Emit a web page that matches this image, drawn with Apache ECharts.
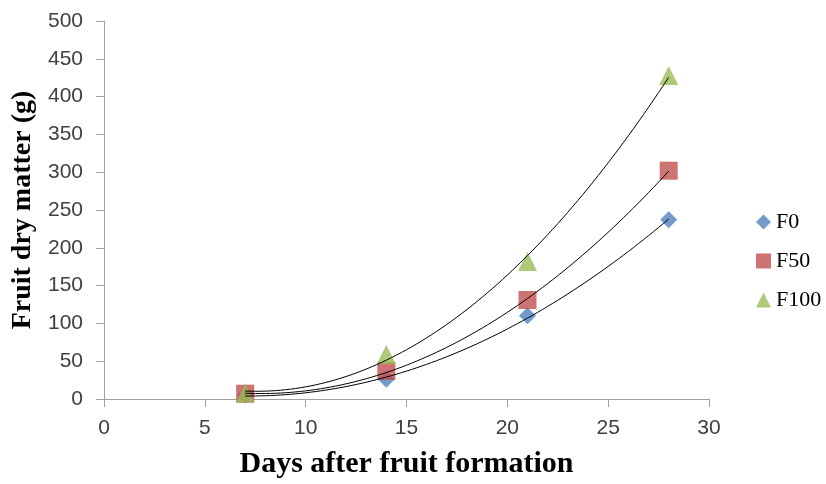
<!DOCTYPE html>
<html><head><meta charset="utf-8">
<script src="https://cdn.jsdelivr.net/npm/echarts@6/dist/echarts.min.js"></script>
<style>html,body{margin:0;padding:0;background:#fff}#c{width:826px;height:484px}</style>
</head><body><div id="c"></div>
<script>
const days = [7, 14, 21, 28];
const F0 = [5, 26, 110, 237];
const F50 = [7, 37, 131, 302];
const F100 = [8, 59, 182, 428];
const xTicks = [0, 5, 10, 15, 20, 25, 30];
const yTicks = [0, 50, 100, 150, 200, 250, 300, 350, 400, 450, 500];

// least squares quadratic (Excel polynomial trendline, order 2)
function quadFit(xs, ys) {
  let n = xs.length, S = [0,0,0,0,0], T = [0,0,0];
  for (let i = 0; i < n; i++) {
    let p = 1;
    for (let k = 0; k < 5; k++) { S[k] += p; if (k < 3) T[k] += p * ys[i]; p *= xs[i]; }
  }
  const A = [[S[0],S[1],S[2],T[0]],[S[1],S[2],S[3],T[1]],[S[2],S[3],S[4],T[2]]];
  for (let i = 0; i < 3; i++) {
    for (let j = i + 1; j < 3; j++) {
      const f = A[j][i] / A[i][i];
      for (let k = i; k < 4; k++) A[j][k] -= f * A[i][k];
    }
  }
  const c = [0,0,0];
  for (let i = 2; i >= 0; i--) {
    let s = A[i][3];
    for (let k = i + 1; k < 3; k++) s -= A[i][k] * c[k];
    c[i] = s / A[i][i];
  }
  return c;
}
function trend(ys) {
  const c = quadFit(days, ys), out = [];
  const x0 = days[0], x1 = days[days.length - 1];
  for (let i = 0; i <= 84; i++) {
    const x = x0 + (x1 - x0) * i / 84;
    out.push([x, c[0] + c[1] * x + c[2] * x * x]);
  }
  return out;
}
const pts = ys => days.map((d, i) => [d, ys[i]]);

const tickFont = {fontFamily: '"Liberation Sans",sans-serif', fontSize: 21, color: '#404040'};
const chart = echarts.init(document.getElementById('c'));
const trendStyle = {color: '#000', width: 1};
chart.setOption({
  animation: false,
  grid: {left: 104, right: 117, top: 21, bottom: 82},
  legend: {
    orient: 'vertical', left: 751, top: 206, itemGap: 17, itemWidth: 15, itemHeight: 15,
    textStyle: {fontFamily: '"Liberation Serif",serif', fontSize: 22, color: '#000'},
    data: [{name: 'F0', icon: 'diamond'}, {name: 'F50', icon: 'rect'}, {name: 'F100', icon: 'triangle'}]
  },
  xAxis: {
    type: 'value', min: 0, max: 30, interval: 5,
    name: 'Days after fruit formation', nameLocation: 'middle', nameGap: 50,
    nameTextStyle: {fontFamily: '"Liberation Serif",serif', fontWeight: 'bold', fontSize: 30, color: '#000'},
    axisLine: {lineStyle: {color: '#a0a0a0'}},
    axisTick: {show: true, length: 8, lineStyle: {color: '#a0a0a0'}},
    axisLabel: Object.assign({margin: 19}, tickFont),
    splitLine: {show: false}
  },
  yAxis: {
    type: 'value', min: 0, max: 500, interval: 50,
    name: 'Fruit dry matter (g)', nameLocation: 'middle', nameGap: 66,
    nameTextStyle: {fontFamily: '"Liberation Serif",serif', fontWeight: 'bold', fontSize: 28, color: '#000'},
    axisLine: {show: true, lineStyle: {color: '#a0a0a0'}},
    axisTick: {show: true, length: 8, lineStyle: {color: '#a0a0a0'}},
    axisLabel: Object.assign({margin: 21}, tickFont),
    splitLine: {show: false}
  },
  series: [
    {name: 'F0', type: 'scatter', symbol: 'diamond', symbolSize: 17, itemStyle: {color: '#4f81bd'}, data: pts(F0), z: 2},
    {name: 'F50', type: 'scatter', symbol: 'rect', symbolSize: 18, itemStyle: {color: '#c0504d'}, data: pts(F50), z: 2},
    {name: 'F100', type: 'scatter', symbol: 'triangle', symbolSize: 19, itemStyle: {color: '#9bbb59'}, data: pts(F100), z: 2},
    {name: 'F0 trend', type: 'line', showSymbol: false, lineStyle: trendStyle, itemStyle: {color: '#000'}, data: trend(F0), z: 3},
    {name: 'F50 trend', type: 'line', showSymbol: false, lineStyle: trendStyle, itemStyle: {color: '#000'}, data: trend(F50), z: 3},
    {name: 'F100 trend', type: 'line', showSymbol: false, lineStyle: trendStyle, itemStyle: {color: '#000'}, data: trend(F100), z: 3}
  ]
});
</script></body></html>
